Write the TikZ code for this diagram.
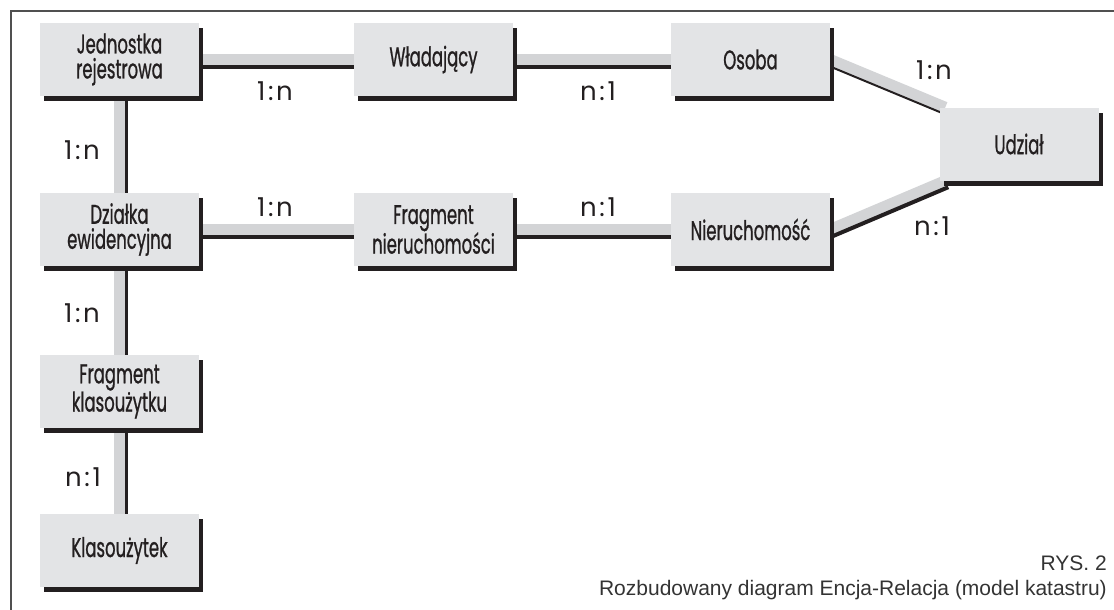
\documentclass[tikz,border=0pt]{standalone}
\usepackage{fontspec}
\setmainfont{Liberation Sans}
\newfontfamily\boxfont[FakeStretch=0.61,FakeBold=0.8]{Poppins}
\newfontfamily\labfont[LetterSpace=10]{Poppins}
\usetikzlibrary{shadows,backgrounds}
\definecolor{boxgray}{HTML}{E3E4E6}
\definecolor{bandgray}{HTML}{D3D4D6}
\definecolor{ink}{HTML}{231F20}
\definecolor{framegray}{HTML}{505050}
\definecolor{captgray}{HTML}{333333}
\tikzset{
  entity/.style={fill=boxgray, minimum width=159pt, minimum height=73pt,
    inner sep=0pt, align=center, text=ink,
    font=\boxfont\fontsize{27}{25}\selectfont,
    drop shadow={shadow xshift=4pt, shadow yshift=-5pt, fill=ink, opacity=1}},
  band/.style={draw=bandgray, line width=11pt},
  edgeline/.style={draw=ink, line width=3.5pt},
  card/.style={text=ink, font=\labfont\fontsize{26}{28}\selectfont, inner sep=0pt},
  capt/.style={text=captgray, font=\fontsize{21}{24}\selectfont, inner sep=0pt, anchor=base east},
}
\begin{document}
\begin{tikzpicture}[x=1pt,y=-1pt]
\useasboundingbox (0,0) rectangle (1114,610);
\draw[framegray, line width=1.5pt] (11,610) coordinate (fb) -- (11,11) coordinate (fc) -- (1114,11) coordinate (fr);

\node[entity] (jr) at (119.5,59.5) {Jednostka\\rejestrowa};
\node[entity] (wl) at (433.5,59.5) {Władający};
\node[entity] (os) at (750.5,59.5) {Osoba};
\node[entity] (ud) at (1019,144) {Udział};
\node[entity] (de) at (119.5,229.5) {Działka\\ewidencyjna};
\node[entity] (fn) at (433.5,229.5) {Fragment\\nieruchomości};
\node[entity] (nr) at (750.5,229.5) {Nieruchomość};
\node[entity] (fk) at (119.5,391.5) {Fragment\\klasoużytku};
\node[entity] (kl) at (119.5,550.5) {Klasoużytek};

\begin{pgfonlayer}{background}
  \draw[band] (jr) -- (wl);
  \draw[edgeline, transform canvas={yshift=-7.5pt}] (jr) -- (wl);
  \draw[band] (wl) -- (os);
  \draw[edgeline, transform canvas={yshift=-7.5pt}] (wl) -- (os);
  \draw[band] (de) -- (fn);
  \draw[edgeline, transform canvas={yshift=-7.5pt}] (de) -- (fn);
  \draw[band] (fn) -- (nr);
  \draw[edgeline, transform canvas={yshift=-7.5pt}] (fn) -- (nr);
  \draw[band] (jr) -- (de);
  \draw[edgeline, transform canvas={xshift=7pt}] (jr) -- (de);
  \draw[band] (de) -- (fk);
  \draw[edgeline, transform canvas={xshift=7pt}] (de) -- (fk);
  \draw[band] (fk) -- (kl);
  \draw[edgeline, transform canvas={xshift=7pt}] (fk) -- (kl);
  \draw[band] (os.east) -- ([xshift=6pt]ud.north west);
  \draw[edgeline, line width=2pt, transform canvas={shift={(-2.5pt,-6pt)}}] (os.east) -- ([xshift=6pt]ud.north west);
  \draw[band] (nr.east) -- ([xshift=6pt]ud.south west);
  \draw[edgeline, line width=4pt, transform canvas={shift={(3pt,-6.5pt)}}] (nr.east) -- ([xshift=6pt]ud.south west);
\end{pgfonlayer}

\node[card] (c1) at (275,91) {1:n};
\node[card] (c2) at (598,91) {n:1};
\node[card] (c3) at (934,70) {1:n};
\node[card] (c4) at (932,226) {n:1};
\node[card] (c5) at (275,207) {1:n};
\node[card] (c6) at (598,207) {n:1};
\node[card] (c7) at (82,150) {1:n};
\node[card] (c8) at (82,313) {1:n};
\node[card] (c9) at (83,477) {n:1};

\node[capt] (cap1) at (1107,570) {RYS. 2};
\node[capt] (cap2) at (1107,595) {Rozbudowany diagram Encja-Relacja (model katastru)};
\end{tikzpicture}
\end{document}
